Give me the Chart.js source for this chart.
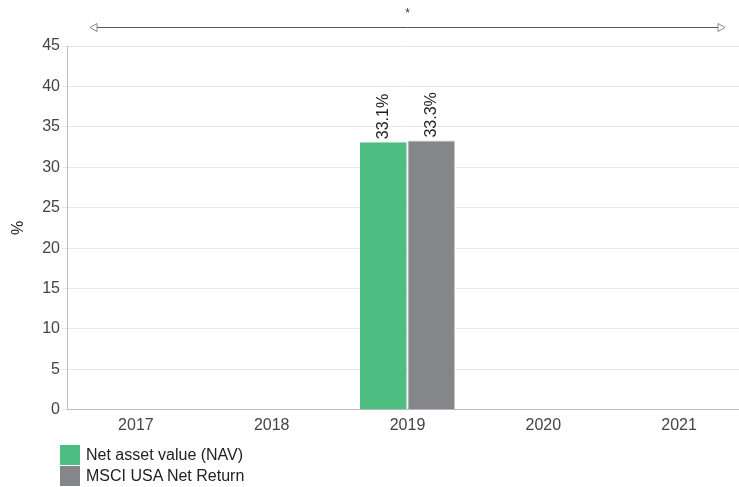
<!DOCTYPE html>
<html>
<head>
<meta charset="utf-8">
<script src="https://cdn.jsdelivr.net/npm/chart.js@4.4.0/dist/chart.umd.min.js"></script>
<style>
  html, body { margin: 0; padding: 0; background: #fff; }
  .wrap { position: relative; width: 739px; height: 487px; overflow: hidden; }
  #legend { position: absolute; left: 60px; top: 444px; font-family: "Liberation Sans", Arial, sans-serif; font-size: 16px; color: #222; }
  #legend div { display: flex; align-items: center; height: 21px; }
  #legend span.box { display: inline-block; width: 20px; height: 20px; margin-right: 6px; }
</style>
</head>
<body>
<div class="wrap">
  <canvas id="c" width="748" height="487"></canvas>
  <div id="legend"></div>
</div>
<script>
// Chart data
const years = ['2017', '2018', '2019', '2020', '2021'];
const navValues = [null, null, 33.1, null, null];
const msciValues = [null, null, 33.3, null, null];
const seriesNames = ['Net asset value (NAV)', 'MSCI USA Net Return'];
const seriesColors = ['#4dbd82', '#85868a'];
const yTicks = [0, 5, 10, 15, 20, 25, 30, 35, 40, 45];

const FONT = '"Liberation Sans", Arial, sans-serif';

// Arrow across the top with "*"
const topArrow = {
  id: 'topArrow',
  afterDraw(chart) {
    const ctx = chart.ctx;
    const x0 = 90, x1 = 725, y = 27;
    ctx.save();
    ctx.strokeStyle = '#555';
    ctx.lineWidth = 1;
    ctx.beginPath();
    ctx.moveTo(x0 + 6, y + 0.5);
    ctx.lineTo(x1 - 6, y + 0.5);
    ctx.stroke();
    ctx.strokeStyle = '#888';
    ctx.fillStyle = '#fff';
    // left head
    ctx.beginPath();
    ctx.moveTo(x0, y + 0.5);
    ctx.lineTo(x0 + 7, y - 3.5);
    ctx.lineTo(x0 + 7, y + 4.5);
    ctx.closePath();
    ctx.fill(); ctx.stroke();
    // right head
    ctx.beginPath();
    ctx.moveTo(x1, y + 0.5);
    ctx.lineTo(x1 - 7, y - 3.5);
    ctx.lineTo(x1 - 7, y + 4.5);
    ctx.closePath();
    ctx.fill(); ctx.stroke();
    ctx.fillStyle = '#333';
    ctx.font = '12px ' + FONT;
    ctx.textAlign = 'center';
    ctx.fillText('*', (x0 + x1) / 2, 17);
    ctx.restore();
  }
};

// Rotated value labels on bar tops
const barLabels = {
  id: 'barLabels',
  afterDatasetsDraw(chart) {
    const ctx = chart.ctx;
    ctx.save();
    ctx.font = '16px ' + FONT;
    ctx.fillStyle = '#222';
    ctx.textAlign = 'left';
    ctx.textBaseline = 'middle';
    chart.data.datasets.forEach((ds, i) => {
      chart.getDatasetMeta(i).data.forEach((bar, j) => {
        const v = ds.data[j];
        if (v == null) return;
        ctx.save();
        ctx.translate(bar.x, bar.y - 3);
        ctx.rotate(-Math.PI / 2);
        ctx.fillText(v.toFixed(1) + '%', 0, 0);
        ctx.restore();
      });
    });
    ctx.restore();
  }
};

new Chart(document.getElementById('c'), {
  type: 'bar',
  data: {
    labels: years,
    datasets: [
      { label: seriesNames[0], data: navValues, backgroundColor: seriesColors[0], borderColor: '#ffffff', borderWidth: { right: 1 } },
      { label: seriesNames[1], data: msciValues, backgroundColor: seriesColors[1], borderColor: '#c8c8c8', borderWidth: 1 }
    ]
  },
  options: {
    responsive: false,
    animation: false,
    events: [],
    categoryPercentage: 0.7,
    barPercentage: 1,
    layout: { padding: { top: 46, right: 1, bottom: 46, left: 5 } },
    plugins: { legend: { display: false }, tooltip: { enabled: false } },
    scales: {
      x: {
        grid: { display: false, drawTicks: false },
        border: { color: '#bbb' },
        ticks: { color: '#444', font: { family: FONT, size: 16 }, padding: 6 }
      },
      y: {
        min: 0, max: 45,
        afterBuildTicks(axis) { axis.ticks = yTicks.map(v => ({ value: v })); },
        grid: { color: '#e8e8e8', drawTicks: true, tickLength: 6, tickColor: '#e8e8e8' },
        border: { color: '#bbb' },
        ticks: { color: '#444', font: { family: FONT, size: 16 }, padding: 2 },
        title: { display: true, text: '%', color: '#222', font: { family: FONT, size: 16 }, padding: { bottom: 12 } }
      }
    }
  },
  plugins: [topArrow, barLabels]
});

// HTML legend
const legend = document.getElementById('legend');
seriesNames.forEach((name, i) => {
  const row = document.createElement('div');
  row.innerHTML = '<span class="box" style="background:' + seriesColors[i] + '"></span>' + name;
  legend.appendChild(row);
});
</script>
</body>
</html>
